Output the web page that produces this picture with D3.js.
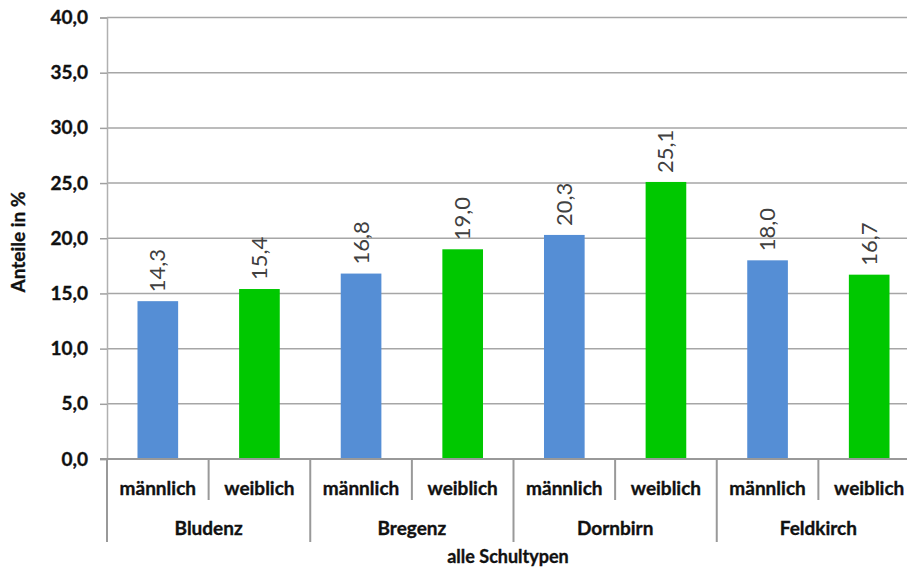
<!DOCTYPE html>
<html>
<head>
<meta charset="utf-8">
<script src="https://cdn.jsdelivr.net/npm/d3@7"></script>
<style>
  html, body { margin: 0; padding: 0; background: #fff; }
  svg { display: block; }
  text { font-family: Lato, "Open Sans", sans-serif; }
  .heavy { stroke: #111; stroke-width: 0.35px; }
</style>
</head>
<body>
<svg id="chart" width="907" height="567"></svg>
<script>
// Anteile in % nach Bezirk und Geschlecht (alle Schultypen)
const districts = ["Bludenz", "Bregenz", "Dornbirn", "Feldkirch"];
const sexes = ["männlich", "weiblich"];
const maleValues = [14.3, 16.8, 20.3, 18.0];
const femaleValues = [15.4, 19.0, 25.1, 16.7];
const yTicks = [0, 5, 10, 15, 20, 25, 30, 35, 40];
const yTitle = "Anteile in %";
const xTitle = "alle Schultypen";

const colors = { "männlich": "#558ed5", "weiblich": "#00c800" };
const fmt = v => d3.format(".1f")(v).replace(".", ",");

const rows = [];
districts.forEach((d, i) => {
  rows.push({ district: d, sex: sexes[0], value: maleValues[i] });
  rows.push({ district: d, sex: sexes[1], value: femaleValues[i] });
});

const svg = d3.select("#chart");
const plotLeft = 107, plotRight = 920, plotTop = 17.5, plotBottom = 459;

const x0 = d3.scaleBand().domain(districts).range([plotLeft, plotRight]);
const x1 = d3.scaleBand().domain(sexes).range([0, x0.bandwidth()]).paddingInner(0.6).paddingOuter(0.3);
const y = d3.scaleLinear().domain([0, 40]).range([plotBottom, plotTop]);

// horizontal gridlines
svg.append("g")
  .selectAll("line")
  .data(yTicks.filter(t => t > 0))
  .join("line")
  .attr("x1", plotLeft).attr("x2", plotRight)
  .attr("y1", d => y(d)).attr("y2", d => y(d))
  .attr("stroke", "#a6a6a6").attr("stroke-width", 1.5);

// y axis
const yAxis = svg.append("g")
  .attr("transform", `translate(${plotLeft},0)`)
  .call(d3.axisLeft(y).tickValues(yTicks).tickFormat(fmt).tickSize(7).tickPadding(12));
yAxis.select(".domain").attr("stroke", "#b0b0b0").attr("stroke-width", 1.5);
yAxis.selectAll(".tick line").attr("stroke", "#a0a0a0").attr("stroke-width", 1.5);
yAxis.selectAll(".tick text")
  .attr("class", "heavy")
  .attr("font-family", "Lato, sans-serif")
  .attr("font-weight", "bold").attr("font-size", 19).attr("fill", "#111");

// bars
svg.append("g")
  .selectAll("rect")
  .data(rows)
  .join("rect")
  .attr("x", d => x0(d.district) + x1(d.sex))
  .attr("width", x1.bandwidth())
  .attr("y", d => y(d.value))
  .attr("height", d => y(0) - y(d.value))
  .attr("fill", d => colors[d.sex]);

// value labels, rotated
svg.append("g")
  .selectAll("text")
  .data(rows)
  .join("text")
  .attr("transform", d => `translate(${x0(d.district) + x1(d.sex) + x1.bandwidth() / 2 + 7.5},${y(d.value) - 9}) rotate(-90)`)
  .attr("text-anchor", "start")
  .attr("font-size", 22)
  .attr("fill", "#404040")
  .text(d => fmt(d.value));

// category axis: baseline, dividers and labels
const axisG = svg.append("g");
axisG.append("line")
  .attr("x1", plotLeft - 7).attr("x2", plotRight)
  .attr("y1", plotBottom).attr("y2", plotBottom)
  .attr("stroke", "#999").attr("stroke-width", 2);

const groupEdges = districts.map(d => x0(d)).concat([plotRight]);
axisG.selectAll(".grp")
  .data(groupEdges)
  .join("line")
  .attr("class", "grp")
  .attr("x1", d => d).attr("x2", d => d)
  .attr("y1", plotBottom).attr("y2", 542)
  .attr("stroke", "#999").attr("stroke-width", 2);

axisG.selectAll(".sub")
  .data(districts)
  .join("line")
  .attr("class", "sub")
  .attr("x1", d => x0(d) + x0.bandwidth() / 2).attr("x2", d => x0(d) + x0.bandwidth() / 2)
  .attr("y1", plotBottom).attr("y2", 500)
  .attr("stroke", "#999").attr("stroke-width", 2);

axisG.selectAll(".sexLabel")
  .data(rows)
  .join("text")
  .attr("class", "sexLabel heavy")
  .attr("x", d => x0(d.district) + x1(d.sex) + x1.bandwidth() / 2)
  .attr("y", 495)
  .attr("text-anchor", "middle")
  .attr("font-weight", "bold").attr("font-size", 19).attr("fill", "#111")
  .text(d => d.sex);

axisG.selectAll(".distLabel")
  .data(districts)
  .join("text")
  .attr("class", "distLabel heavy")
  .attr("x", d => x0(d) + x0.bandwidth() / 2)
  .attr("y", 535)
  .attr("text-anchor", "middle")
  .attr("font-weight", "bold").attr("font-size", 19).attr("fill", "#111")
  .text(d => d);

// axis titles
svg.append("text")
  .attr("class", "heavy")
  .attr("x", 508).attr("y", 563)
  .attr("text-anchor", "middle")
  .attr("font-weight", "bold").attr("font-size", 18).attr("fill", "#111")
  .text(xTitle);

svg.append("text")
  .attr("class", "heavy")
  .attr("transform", `translate(25,242) rotate(-90)`)
  .attr("text-anchor", "middle")
  .attr("font-weight", "bold").attr("font-size", 19).attr("fill", "#111")
  .text(yTitle);
</script>
</body>
</html>
